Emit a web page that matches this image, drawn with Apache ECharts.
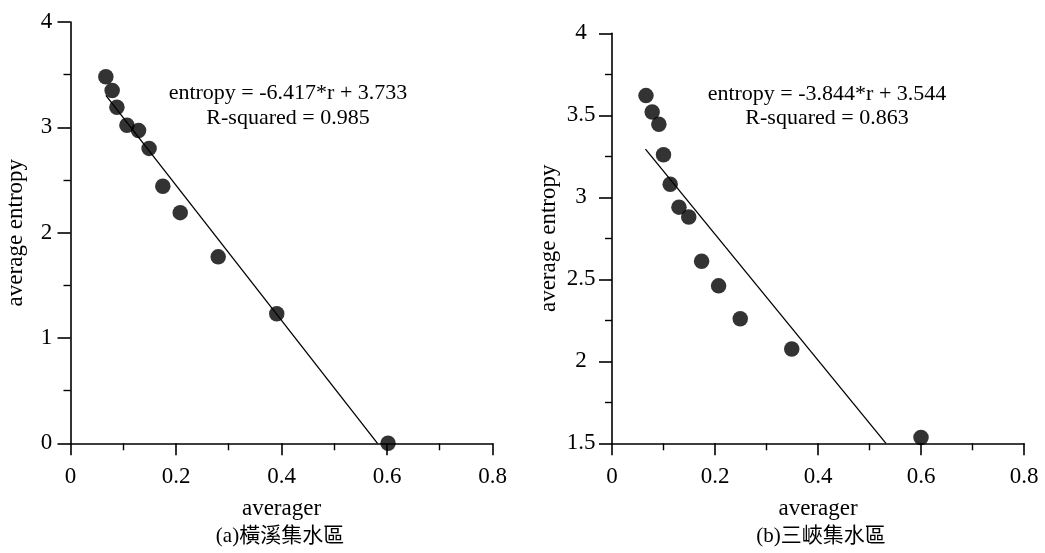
<!DOCTYPE html>
<html>
<head>
<meta charset="utf-8">
<script src="https://cdn.jsdelivr.net/npm/echarts@6/dist/echarts.min.js"></script>
<style>
html,body{margin:0;padding:0;background:#fff;}
#chart{width:1045px;height:553px;}
</style>
</head>
<body>
<div id="chart"></div>
<script>
// ---- data ----
const leftR = [0.067, 0.079, 0.088, 0.107, 0.129, 0.149, 0.175, 0.208, 0.280, 0.391, 0.602];
const leftEntropy = [3.48, 3.35, 3.19, 3.02, 2.97, 2.80, 2.44, 2.19, 1.77, 1.23, 0.0];
const leftFitR = [0.067, 0.582];
const leftFitEntropy = [3.303, 0];

const rightR = [0.066, 0.078, 0.091, 0.100, 0.113, 0.130, 0.149, 0.174, 0.207, 0.249, 0.349, 0.600];
const rightEntropy = [3.62, 3.52, 3.445, 3.26, 3.08, 2.94, 2.88, 2.61, 2.46, 2.26, 2.075, 1.535];
const rightFitR = [0.065, 0.532];
const rightFitEntropy = [3.294, 1.5];

const xName = 'averager';
const yName = 'average entropy';
const leftEquation = ['entropy = -6.417*r + 3.733', 'R-squared = 0.985'];
const rightEquation = ['entropy = -3.844*r + 3.544', 'R-squared = 0.863'];
const leftCaption = '(a)橫溪集水區';
const rightCaption = '(b)三峽集水區';

// ---- helpers ----
const pairs = (xs, ys) => xs.map((x, i) => [x, ys[i]]);
const SERIF = '"Liberation Serif", "Times New Roman", serif';
const CJK = '"Liberation Serif", "Noto Sans CJK TC", serif';

function xAxis(gridIndex) {
  return {
    type: 'value', gridIndex, min: 0, max: 0.8, interval: 0.2,
    name: xName, nameLocation: 'middle', nameGap: 54,
    nameTextStyle: {fontFamily: SERIF, fontSize: 23, color: '#000'},
    axisLine: {onZero: false, lineStyle: {color: '#000', width: 1.6}},
    axisTick: {length: 12, lineStyle: {color: '#000', width: 1.6}},
    minorTick: {show: true, splitNumber: 2, length: 7, lineStyle: {color: '#000', width: 1.4}},
    axisLabel: {fontFamily: SERIF, fontSize: 23, color: '#000', margin: 22},
    splitLine: {show: false}
  };
}
function yAxis(gridIndex, min, max, interval, nameGap, labelMargin) {
  return {
    type: 'value', gridIndex, min, max, interval,
    name: yName, nameLocation: 'middle', nameGap,
    nameTextStyle: {fontFamily: SERIF, fontSize: 23, color: '#000'},
    axisLine: {onZero: false, lineStyle: {color: '#000', width: 1.6}},
    axisTick: {length: 13, lineStyle: {color: '#000', width: 1.6}},
    minorTick: {show: true, splitNumber: 2, length: 7, lineStyle: {color: '#000', width: 1.4}},
    axisLabel: {fontFamily: SERIF, fontSize: 23, color: '#000', margin: labelMargin, align: 'center'},
    splitLine: {show: false}
  };
}
function textEl(x, y, text, family, size) {
  return {type: 'text', x, y, style: {text, fontFamily: family, fontSize: size, fill: '#000', align: 'center', verticalAlign: 'middle'}};
}

const chart = echarts.init(document.getElementById('chart'), null, {renderer: 'canvas'});
chart.setOption({
  backgroundColor: '#fff',
  animation: false,
  grid: [
    {left: 70.5, top: 22, width: 422, height: 421.3},
    {left: 612, top: 33.3, width: 412, height: 410}
  ],
  xAxis: [xAxis(0), xAxis(1)],
  yAxis: [yAxis(0, 0, 4, 1, 43, 24), yAxis(1, 1.5, 4, 0.5, 52, 31)],
  series: [
    {type: 'line', xAxisIndex: 0, yAxisIndex: 0, data: pairs(leftFitR, leftFitEntropy), symbol: 'none', lineStyle: {color: '#000', width: 1.3}, z: 1},
    {type: 'scatter', xAxisIndex: 0, yAxisIndex: 0, data: pairs(leftR, leftEntropy), symbol: 'circle', symbolSize: 15.5, itemStyle: {color: '#000'}, clip: false, z: 2},
    {type: 'line', xAxisIndex: 1, yAxisIndex: 1, data: pairs(rightFitR, rightFitEntropy), symbol: 'none', lineStyle: {color: '#000', width: 1.3}, z: 1},
    {type: 'scatter', xAxisIndex: 1, yAxisIndex: 1, data: pairs(rightR, rightEntropy), symbol: 'circle', symbolSize: 15.5, itemStyle: {color: '#000'}, clip: false, z: 2}
  ],
  graphic: [
    textEl(288, 93, leftEquation[0], SERIF, 22),
    textEl(288, 118, leftEquation[1], SERIF, 22),
    textEl(827, 94, rightEquation[0], SERIF, 22),
    textEl(827, 118, rightEquation[1], SERIF, 22),
    textEl(280, 536, leftCaption, CJK, 21),
    textEl(821, 536, rightCaption, CJK, 21)
  ]
});
</script>
</body>
</html>
